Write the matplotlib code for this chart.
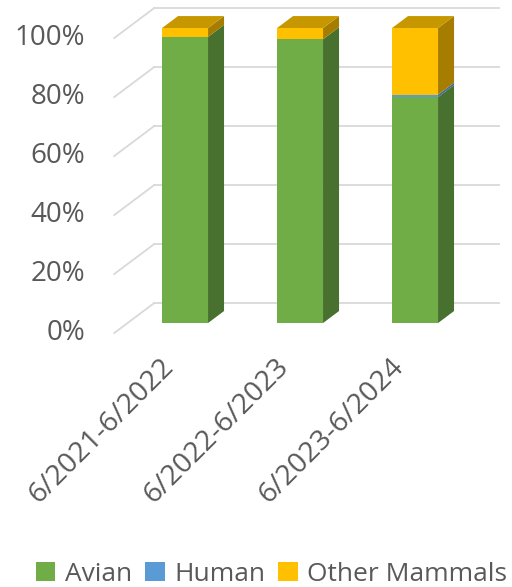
import matplotlib.pyplot as plt
from matplotlib.patches import Polygon, Patch

plt.rcParams['font.family'] = ['Open Sans', 'DejaVu Sans']

periods = ["6/2021-6/2022", "6/2022-6/2023", "6/2023-6/2024"]
avian = [97.0, 96.2, 76.6]
human = [0.0, 0.0, 0.8]
other_mammals = [3.0, 3.8, 22.6]
y_ticks = [0, 20, 40, 60, 80, 100]

series = [
    ("Avian", avian, "#70AD47", "#48702E", "#5A8C39"),
    ("Human", human, "#5B9BD5", "#3C6E9C", "#4A80B0"),
    ("Other Mammals", other_mammals, "#FFC000", "#A67D00", "#C79700"),
]

# oblique projection for the fake 3d: depth shift per unit depth
DX = 0.348
DY = 10.17
Z0, Z1 = 0.333, 0.733
BAR_W = 0.4
GRID = "#D9D9D9"
TEXT = "#595959"


def proj(x, y, z):
    return (x + z * DX, y + z * DY)


fig = plt.figure(figsize=(5.12, 5.87), dpi=100)
ax = fig.add_axes([0, 0, 1, 1])
ax.set_xlim(-1.493, 2.959)
ax.set_ylim(-86.1, 112.9)
ax.axis("off")

# walls: back gridlines and left wall diagonals
for v in y_ticks:
    x0, y0 = proj(-0.5, v, 1)
    x1, y1 = proj(2.5, v, 1)
    ax.plot([x0, x1], [y0, y1], color=GRID, lw=1.3, zorder=1)
    fx, fy = proj(-0.5, v, 0)
    ax.plot([fx, x0], [fy, y0], color=GRID, lw=1.3, zorder=1)
    ax.text(-0.754, v, f"{v}%", ha="right", va="center", fontsize=20,
            color=TEXT)

# stacked bars
for i, period in enumerate(periods):
    bottom = 0.0
    for name, vals, face, side, top in series:
        h = vals[i]
        if h <= 0:
            continue
        fx, fb = proj(i, bottom, Z0)
        ax.bar(fx, h, bottom=fb, width=BAR_W, color=face, zorder=3,
               linewidth=0)
        xr = i + BAR_W / 2
        side_pts = [proj(xr, bottom, Z0), proj(xr, bottom, Z1),
                    proj(xr, bottom + h, Z1), proj(xr, bottom + h, Z0)]
        ax.add_patch(Polygon(side_pts, closed=True, facecolor=side,
                             edgecolor="none", zorder=2.5))
        bottom += h
        last_top = top
    xl, xr = i - BAR_W / 2, i + BAR_W / 2
    top_pts = [proj(xl, bottom, Z0), proj(xr, bottom, Z0),
               proj(xr, bottom, Z1), proj(xl, bottom, Z1)]
    ax.add_patch(Polygon(top_pts, closed=True, facecolor=last_top,
                         edgecolor="none", zorder=2.5))

    lx, ly = proj(i, 0, 0)
    ax.text(lx - 0.02, ly - 10.0, period, rotation=45, rotation_mode="anchor",
            ha="right", va="center", fontsize=20.5, color=TEXT)

handles = [Patch(facecolor=s[2], edgecolor="none", label=s[0]) for s in series]
leg = fig.legend(handles=handles, loc="lower center", ncol=3, frameon=False,
                 fontsize=19, bbox_to_anchor=(0.53, -0.04),
                 handlelength=0.75, handleheight=0.75, handletextpad=0.35,
                 columnspacing=0.5)
for t in leg.get_texts():
    t.set_color(TEXT)

fig.savefig("out.png", dpi=100)
